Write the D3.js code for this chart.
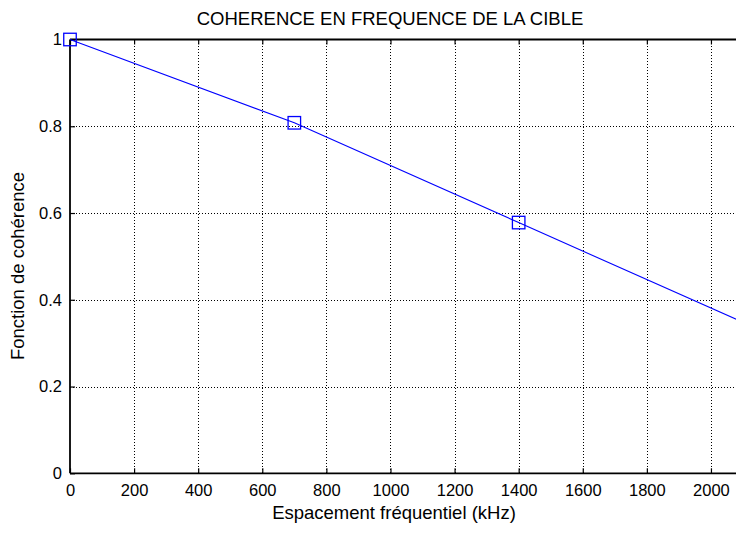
<!DOCTYPE html>
<html>
<head>
<meta charset="utf-8">
<script src="https://cdn.jsdelivr.net/npm/d3@7"></script>
<style>
  html, body { margin: 0; padding: 0; background: #fff; }
  svg { display: block; }
  text { font-family: "Liberation Sans", Arial, Helvetica, sans-serif; fill: #000; }
</style>
</head>
<body>
<svg id="chart" width="736" height="533"></svg>
<script>
// ---- data ----
const freq = [0, 700, 1400, 2100];          // kHz
const coherence = [1, 0.808, 0.578, 0.348];
const xTicks = [0, 200, 400, 600, 800, 1000, 1200, 1400, 1600, 1800, 2000];
const yTicks = [0, 0.2, 0.4, 0.6, 0.8, 1];
const titleText = "COHERENCE EN FREQUENCE DE LA CIBLE";
const xLabelText = "Espacement fréquentiel (kHz)";
const yLabelText = "Fonction de cohérence";

// ---- layout ----
const pLeft = 70, pRight = 743, pTop = 39.5, pBottom = 473.3;
const svg = d3.select("#chart");
svg.append("rect").attr("width", 736).attr("height", 533).attr("fill", "#fff");

const x = d3.scaleLinear().domain([0, 2100]).range([pLeft, pRight]);
const y = d3.scaleLinear().domain([0, 1]).range([pBottom, pTop]);

// grid
const grid = svg.append("g").attr("stroke", "#000").attr("stroke-width", 1)
  .attr("stroke-dasharray", "1,2").attr("shape-rendering", "crispEdges");
grid.selectAll("line.gx").data(xTicks.filter(d => d > 0)).join("line")
  .attr("x1", d => Math.round(x(d)) + 0.5).attr("x2", d => Math.round(x(d)) + 0.5)
  .attr("y1", pTop).attr("y2", pBottom);
grid.selectAll("line.gy").data(yTicks.filter(d => d > 0 && d < 1)).join("line")
  .attr("y1", d => Math.round(y(d)) + 0.5).attr("y2", d => Math.round(y(d)) + 0.5)
  .attr("x1", pLeft).attr("x2", pRight);

// axes (ticks inward)
const fontSize = 16.5;
const xAxis = d3.axisBottom(x).tickValues(xTicks).tickSize(-5).tickPadding(16).tickFormat(d3.format("d"));
const gx = svg.append("g").attr("transform", `translate(0,${pBottom})`).call(xAxis);
const yAxis = d3.axisLeft(y).tickValues(yTicks).tickSize(-5).tickPadding(13).tickFormat(d => d3.format("~g")(d));
const gy = svg.append("g").attr("transform", `translate(${pLeft},0)`).call(yAxis);
const xTop = d3.axisTop(x).tickValues(xTicks).tickSize(-5).tickFormat("");
const gt = svg.append("g").attr("transform", `translate(0,${pTop})`).call(xTop);
[gx, gy, gt].forEach(g => {
  g.select(".domain").remove();
  g.selectAll(".tick line").attr("stroke", "#000").attr("stroke-width", 1.2);
  g.selectAll(".tick text").attr("font-size", fontSize).attr("font-family", "Liberation Sans, Arial, sans-serif").attr("fill", "#000");
});
gx.selectAll(".tick text").attr("dy", "0.71em").attr("y", 11);
gy.selectAll(".tick text").attr("x", -8);

// box lines
const box = svg.append("g").attr("stroke", "#000").attr("stroke-width", 1.8).attr("fill", "none");
box.append("line").attr("x1", pLeft).attr("x2", pRight).attr("y1", pBottom).attr("y2", pBottom);
box.append("line").attr("x1", pLeft).attr("x2", pRight).attr("y1", pTop).attr("y2", pTop);
box.append("line").attr("x1", pLeft).attr("x2", pLeft).attr("y1", pTop).attr("y2", pBottom);

// data line
const pts = freq.map((f, i) => [f, coherence[i]]);
svg.append("path").datum(pts)
  .attr("fill", "none").attr("stroke", "#0000ff").attr("stroke-width", 1.1)
  .attr("d", d3.line().x(d => x(d[0])).y(d => y(d[1])));

// markers
const ms = 12.5;
svg.append("g").selectAll("rect").data(pts).join("rect")
  .attr("x", d => x(d[0]) - ms / 2).attr("y", d => y(d[1]) - ms / 2)
  .attr("width", ms).attr("height", ms)
  .attr("fill", "none").attr("stroke", "#0000ff").attr("stroke-width", 1.3);

// labels
const labelSize = 18.5;
svg.append("text").attr("x", 390).attr("y", 24.5).attr("text-anchor", "middle")
  .attr("font-size", labelSize).text(titleText);
svg.append("text").attr("x", 394).attr("y", 519).attr("text-anchor", "middle")
  .attr("font-size", labelSize).text(xLabelText);
svg.append("text").attr("transform", "translate(24,266) rotate(-90)").attr("text-anchor", "middle")
  .attr("font-size", labelSize).text(yLabelText);
</script>
</body>
</html>
